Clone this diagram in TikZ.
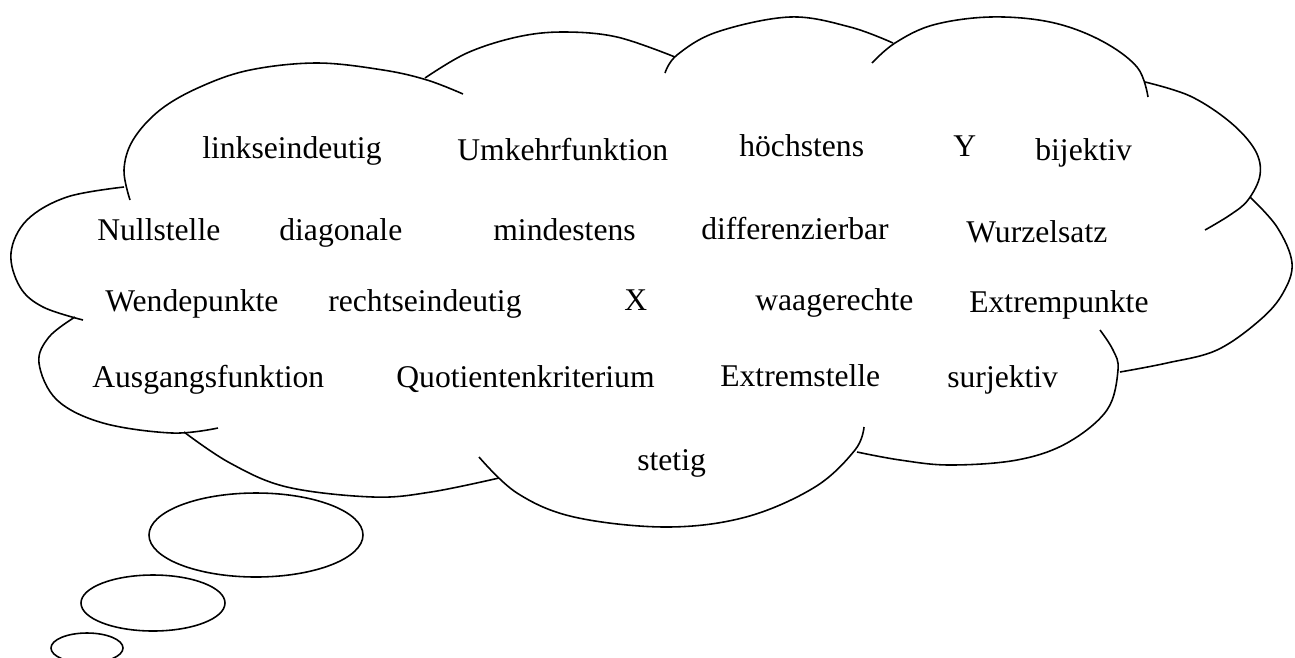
\documentclass[tikz,border=0pt]{standalone}
\usepackage{fontspec}
\setmainfont{Liberation Serif}

\begin{document}
\begin{tikzpicture}[
    x=0.02cm, y=-0.02cm,
    lobe/.style={draw, line width=0.9pt, smooth, tension=0.6},
    bubble/.style={draw, line width=0.9pt},
    word/.style={anchor=base west, inner sep=0pt, font=\fontsize{18}{20}\selectfont}
]
    \clip (0,0) rectangle (1295,657);

    % Cloud outline, lobe by lobe
    \draw[lobe] plot coordinates {(130,200) (124,170) (133,140) (160,110) (200,87) (250,70) (317,63) (383,70) (427,80) (463,94)};
    \draw[lobe] plot coordinates {(425,78) (467,53) (517,37) (563,32) (617,37) (675,57)};
    \draw[lobe] plot coordinates {(665,73) (677,55) (717,32) (790,17) (850,27) (893,43)};
    \draw[lobe] plot coordinates {(872,63) (895,43) (933,25) (990,17) (1050,22) (1100,40) (1137,67) (1148,97)};
    \draw[lobe] plot coordinates {(1145,82) (1190,96) (1230,122) (1255,150) (1260,175) (1248,200) (1230,215) (1205,230)};
    \draw[lobe] plot coordinates {(1250,197) (1277,227) (1292,263) (1283,293) (1260,320) (1217,350) (1167,363) (1120,372)};
    \draw[lobe] plot coordinates {(1100,330) (1113,350) (1118,370) (1107,410) (1067,443) (1017,460) (950,465) (900,460) (857,452)};
    \draw[lobe] plot coordinates {(864,427) (855,450) (815,487) (746,517) (666,527) (574,517) (517,493) (479,457)};
    \draw[lobe] plot coordinates {(499,478) (431,492) (373,497) (287,487) (230,463) (184,432)};
    \draw[lobe] plot coordinates {(218,428) (172,433) (103,423) (57,400) (39,363) (49,337) (75,317)};
    \draw[lobe] plot coordinates {(124,187) (67,197) (27,220) (11,253) (20,287) (43,307) (83,320)};

    % Thought bubbles
    \draw[bubble] (256,535) ellipse [x radius=107, y radius=42];
    \draw[bubble] (153,603) ellipse [x radius=72, y radius=28];
    \draw[bubble] (87,648) ellipse [x radius=36, y radius=15];

    % Row 1
    \node[word] (links) at (202,158) {linkseindeutig};
    \node[word] (umkehr) at (457,160) {Umkehrfunktion};
    \node[word] (hoechst) at (739,156) {höchstens};
    \node[word] (y) at (953,156) {Y};
    \node[word] (bij) at (1035,160) {bijektiv};

    % Row 2
    \node[word] (null) at (97,240) {Nullstelle};
    \node[word] (diag) at (279,240) {diagonale};
    \node[word] (mind) at (493,240) {mindestens};
    \node[word] (diff) at (701,239) {differenzierbar};
    \node[word] (wurzel) at (966,242) {Wurzelsatz};

    % Row 3
    \node[word] (wende) at (105,311) {Wendepunkte};
    \node[word] (rechts) at (328,311) {rechtseindeutig};
    \node[word] (x) at (624,310) {X};
    \node[word] (waage) at (755,310) {waagerechte};
    \node[word] (extpkt) at (969,312) {Extrempunkte};

    % Row 4
    \node[word] (ausg) at (92,387) {Ausgangsfunktion};
    \node[word] (quot) at (396,387) {Quotientenkriterium};
    \node[word] (extst) at (720,386) {Extremstelle};
    \node[word] (surj) at (947,387) {surjektiv};

    % Row 5
    \node[word] (stetig) at (637,470) {stetig};

\end{tikzpicture}
\end{document}
